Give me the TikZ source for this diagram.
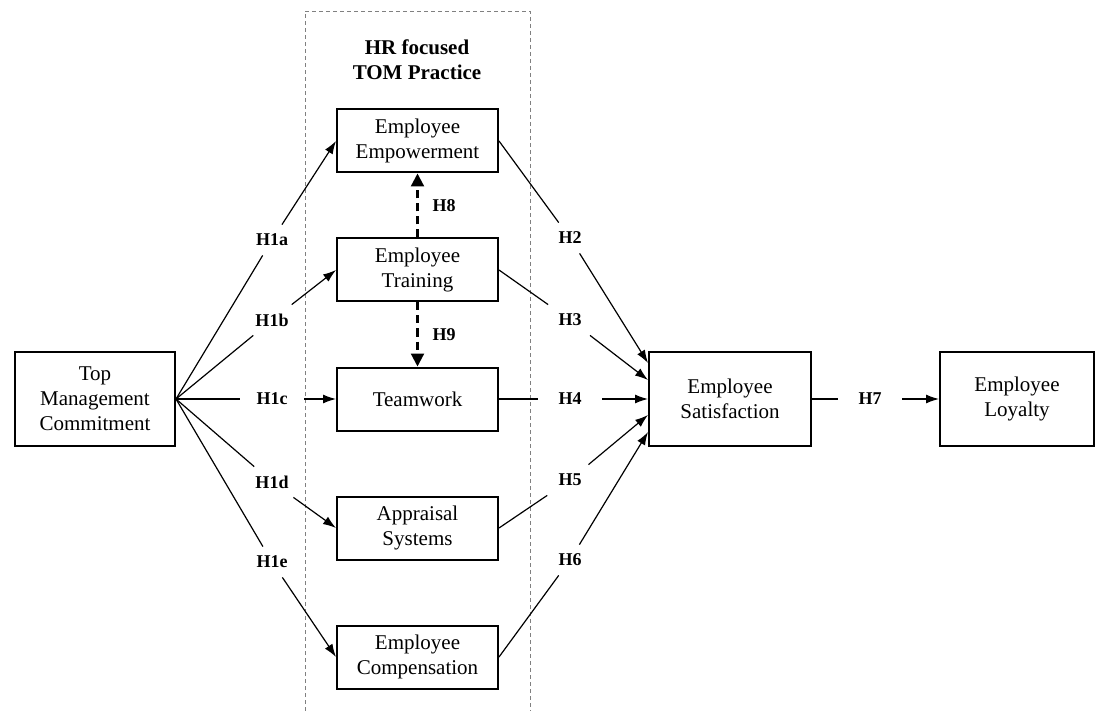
\documentclass[tikz,border=0pt]{standalone}
\usepackage{fontspec}
\setmainfont{Liberation Serif}
\usetikzlibrary{arrows.meta,positioning}

\begin{document}
\begin{tikzpicture}[
      x=0.5pt, y=-0.5pt,
      node distance=32pt and 80pt,
      every node/.style={font=\fontsize{10.5}{12.5}\selectfont},
      box/.style={rectangle, draw, line width=1pt, minimum height=47pt,
                  minimum width=80pt, align=center, inner sep=0pt},
      prac/.style={box, minimum height=31.5pt, minimum width=80.5pt},
      note/.style={font=\fontsize{9}{10}\selectfont\bfseries, inner sep=0pt},
      hyp/.style={note, minimum width=32pt, minimum height=15pt},
      seg/.style={line width=0.6pt},
      arr/.style={-{Latex[length=6.5pt,width=4.5pt]}, line width=0.6pt},
      darr/.style={-{Triangle[length=6.5pt,width=6.5pt]}, line width=1.1pt,
                   dash pattern=on 4pt off 2.5pt},
      frame/.style={draw=gray, line width=0.4pt, dash pattern=on 2pt off 1.5pt}
    ]
      \useasboundingbox (0,0) rectangle (1103,711);

      \draw[frame] (305,711) |- (530,11) -- (530,711);
      \node[align=center, font=\fontsize{10.5}{12.5}\selectfont\bfseries] (title) at (417,60) {HR focused\\TOM Practice};

      \node[box] (TMC) at (95,399) {Top\\Management\\Commitment};
      \node[prac, right=of TMC] (TW) {Teamwork};
      \node[prac, above=of TW] (ET) {Employee\\Training};
      \node[prac, above=of ET] (EE) {Employee\\Empowerment};
      \node[prac, below=of TW] (AS) {Appraisal\\Systems};
      \node[prac, below=of AS] (EC) {Employee\\Compensation};
      \node[box, minimum width=81pt, right=74.5pt of TW] (Sat) {Employee\\Satisfaction};
      \node[box, minimum width=77pt, right=63.5pt of Sat] (EL) {Employee\\Loyalty};

      \node[hyp] (h1a) at (272,240) {H1a};
      \node[hyp] (h1b) at (272,320) {H1b};
      \node[hyp] (h1c) at (272,399) {H1c};
      \node[hyp] (h1d) at (272,482) {H1d};
      \node[hyp] (h1e) at (272,562) {H1e};
      \node[hyp] (h2) at (570,238) {H2};
      \node[hyp] (h3) at (570,320) {H3};
      \node[hyp] (h4) at (570,399) {H4};
      \node[hyp] (h5) at (570,480) {H5};
      \node[hyp] (h6) at (570,560) {H6};
      \node[hyp] (h7) at (870,399) {H7};

      \coordinate (s2) at ([yshift=18pt]Sat.west);
      \coordinate (s3) at ([yshift=9.5pt]Sat.west);
      \coordinate (s5) at ([yshift=-8pt]Sat.west);
      \coordinate (s6) at ([yshift=-16.5pt]Sat.west);

      \draw[seg] (TMC.east) -- (h1a);
      \draw[arr] (h1a) -- (EE.west);
      \draw[seg] (TMC.east) -- (h1b);
      \draw[arr] (h1b) -- (ET.west);
      \draw[seg] (TMC.east) -- (h1c);
      \draw[arr] (h1c) -- (TW.west);
      \draw[seg] (TMC.east) -- (h1d);
      \draw[arr] (h1d) -- (AS.west);
      \draw[seg] (TMC.east) -- (h1e);
      \draw[arr] (h1e) -- (EC.west);

      \draw[seg] (EE.east) -- (h2);
      \draw[arr] (h2) -- (s2);
      \draw[seg] (ET.east) -- (h3);
      \draw[arr] (h3) -- (s3);
      \draw[seg] (TW.east) -- (h4);
      \draw[arr] (h4) -- (Sat.west);
      \draw[seg] (AS.east) -- (h5);
      \draw[arr] (h5) -- (s5);
      \draw[seg] (EC.east) -- (h6);
      \draw[arr] (h6) -- (s6);

      \draw[seg] (Sat.east) -- (h7);
      \draw[arr] (h7) -- (EL.west);

      \draw[darr] (ET.north) -- node[note, right=7pt] (h8) {H8} (EE.south);
      \draw[darr] (ET.south) -- node[note, right=7pt] (h9) {H9} (TW.north);
    \end{tikzpicture}
\end{document}
